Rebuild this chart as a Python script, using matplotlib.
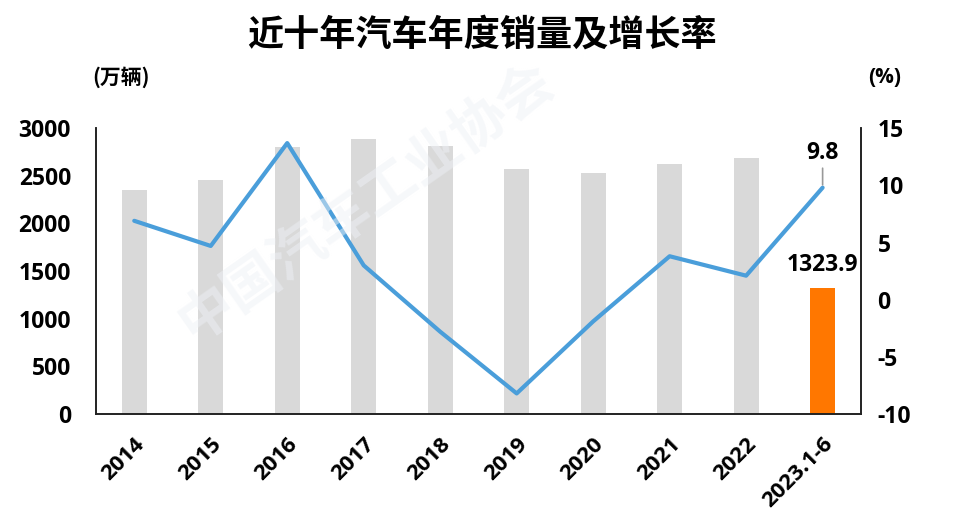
import matplotlib
matplotlib.use("Agg")
import matplotlib.pyplot as plt
import numpy as np

plt.rcParams['font.family'] = ['Open Sans', 'Noto Sans CJK SC', 'DejaVu Sans']
plt.rcParams['axes.unicode_minus'] = False

categories = ['2014', '2015', '2016', '2017', '2018', '2019', '2020', '2021', '2022', '2023.1-6']
sales = [2349.2, 2459.8, 2802.8, 2887.9, 2808.1, 2576.9, 2531.1, 2627.5, 2686.4, 1323.9]
growth = [6.9, 4.7, 13.7, 3.0, -2.8, -8.2, -1.9, 3.8, 2.1, 9.8]
left_ticks = [0, 500, 1000, 1500, 2000, 2500, 3000]
right_ticks = [-10, -5, 0, 5, 10, 15]

bar_colors = ['#D9D9D9'] * 9 + ['#FF7700']

FS = 16.5

fig = plt.figure(figsize=(9.64, 5.32), dpi=100)
ax = fig.add_axes([0.0996, 0.2218, 0.7934, 0.5372])
x = np.arange(len(categories))
ax.bar(x, sales, width=0.33, color=bar_colors, zorder=2)
ax.set_xlim(-0.5, len(categories) - 0.5)
ax.set_ylim(0, 3000)
ax.set_yticks(left_ticks)
ax.set_xticks(x)
ax.set_xticklabels(categories, rotation=45, ha='right', rotation_mode='anchor',
                   fontsize=16, fontweight='bold')
for lab in ax.get_yticklabels():
    lab.set_fontsize(FS)
    lab.set_fontweight('bold')
ax.tick_params(axis='y', length=0, pad=18)
ax.tick_params(axis='x', length=0, pad=14)
ax.spines['top'].set_visible(False)
for s in ['left', 'bottom', 'right']:
    ax.spines[s].set_linewidth(1.2)
    ax.spines[s].set_color('#222222')

ax2 = ax.twinx()
ax2.plot(x, growth, color='#4A9EDA', linewidth=3, zorder=3, solid_capstyle='round')
ax2.set_ylim(-10, 15)
ax2.set_yticks(right_ticks)
for lab in ax2.get_yticklabels():
    lab.set_fontsize(FS)
    lab.set_fontweight('bold')
ax2.tick_params(axis='y', length=0, pad=12)
ax2.spines['top'].set_visible(False)
for s in ['left', 'bottom', 'right']:
    ax2.spines[s].set_linewidth(1.2)
    ax2.spines[s].set_color('#222222')

# annotations
ax.annotate(f'{sales[-1]:.1f}', xy=(x[-1], sales[-1]), xytext=(0, 8),
            textcoords='offset points', ha='center', va='bottom',
            fontsize=FS, fontweight='bold')
ax2.annotate(f'{growth[-1]:.1f}', xy=(x[-1], growth[-1]), xytext=(0, 16),
             textcoords='offset points', ha='center', va='bottom',
             fontsize=FS, fontweight='bold',
             arrowprops=dict(arrowstyle='-', color='#999999', lw=1.2,
                             shrinkA=0, shrinkB=2))

fig.text(0.5, 0.934, '近十年汽车年度销量及增长率', ha='center', va='center',
         fontsize=26, fontweight='heavy', family=['Noto Sans CJK SC'])
fig.text(0.126, 0.855, '(万辆)', ha='center', va='center', fontsize=15, fontweight='bold',
         family=['Noto Sans CJK SC'])
fig.text(0.918, 0.855, '(%)', ha='center', va='center', fontsize=15, fontweight='bold')

# faint watermark
fig.text(0.38, 0.62, '中国汽车工业协会', rotation=35, ha='center', va='center',
         fontsize=40, fontweight='bold', color='#EEF1F6', alpha=0.5, zorder=0,
         family=['Noto Sans CJK SC'])

fig.savefig('out.png', dpi=100)
